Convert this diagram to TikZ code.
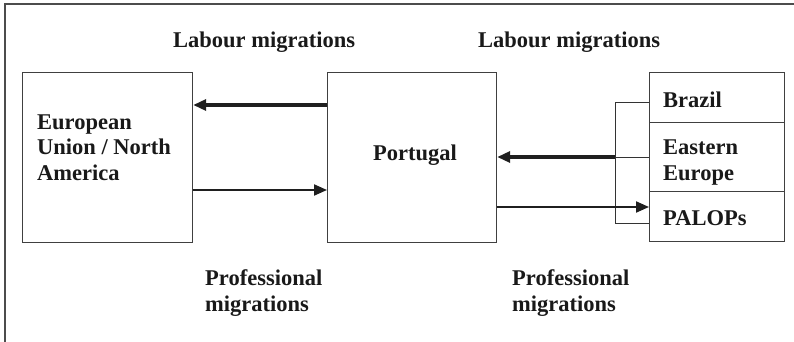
\documentclass[tikz,border=0pt]{standalone}
\usepackage{fontspec}
\setmainfont{Liberation Serif}
\usetikzlibrary{arrows.meta}
\tikzset{
  txt/.style={font=\bfseries\fontsize{22.5}{25.5}\selectfont, text=black!90},
  box/.style={draw=black!75, line width=1.2pt, inner sep=0pt, anchor=north west},
  lbl/.style={txt, anchor=base west, inner sep=0pt, align=left},
  flow/.style={-{Triangle[length=13pt,width=11pt]}, line width=2pt, draw=black!88},
  heavy/.style={flow, line width=3.2pt},
  link/.style={line width=1pt, draw=black!80}
}
\begin{document}
\begin{tikzpicture}[x=1pt,y=-1pt]
      \useasboundingbox (0,0) rectangle (794,342);
      \draw[black!70, line width=1.6pt] (794,4) -- (5,4) -- (5,342);
      % boxes
      \node[box, minimum width=170pt, minimum height=170pt] (eu) at (22,72) {};
      \node[box, minimum width=169pt, minimum height=170pt] (port) at (327,72) {};
      \node[box, minimum width=135pt, minimum height=50pt] (brazil) at (649,72) {};
      \node[box, minimum width=135pt, minimum height=69pt] (eeur) at (649,122) {};
      \node[box, minimum width=135pt, minimum height=50pt] (palops) at (649,191) {};
      % box texts
      \node[lbl] (euT) at (37,180) {European\\Union / North\\America};
      \node[lbl] (portT) at (373,160) {Portugal};
      \node[lbl] (brazilT) at (663,107) {Brazil};
      \node[lbl] (eeurT) at (663,180) {Eastern\\Europe};
      \node[lbl] (palopsT) at (663,225) {PALOPs};
      % labels
      \node[lbl] (lab1) at (173,48) {Labour migrations};
      \node[lbl] (lab2) at (478,48) {Labour migrations};
      \node[lbl] (pro1) at (205,311) {Professional\\migrations};
      \node[lbl] (pro2) at (512,311) {Professional\\migrations};
      % flows
      \draw[heavy] (port.west |- 0,105) -- (eu.east |- 0,105);
      \draw[flow] (eu.east |- 0,190) -- (port.west |- 0,190);
      \coordinate (fork) at (615,157);
      \draw[link] (brazil.west |- 0,103) -| (615,223) -- (palops.west |- 0,223);
      \draw[link] (fork) -- (eeur.west |- fork);
      \draw[heavy] (fork) -- (port.east |- fork);
      \draw[flow] (port.east |- 0,207) -- (palops.west |- 0,207);
\end{tikzpicture}
\end{document}
